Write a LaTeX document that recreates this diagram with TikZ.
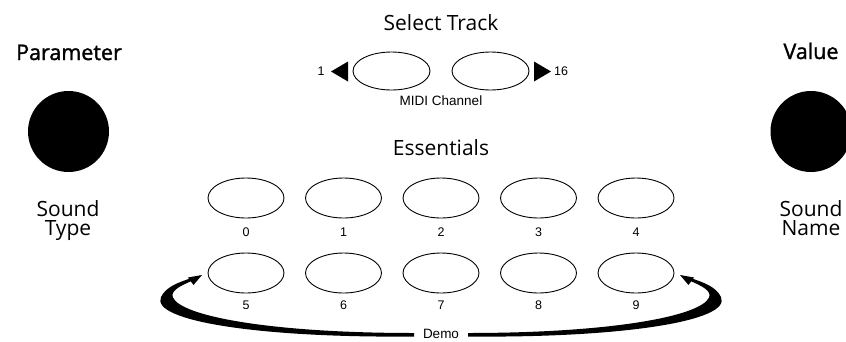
\documentclass[tikz,border=0pt]{standalone}
\usepackage{fontspec}
\usetikzlibrary{shapes.geometric}
\newfontfamily\bigf{Open Sans}
\newfontfamily\headf[FakeBold=1.4]{Open Sans}
\newfontfamily\smallf{Liberation Sans}
\tikzset{
  knob/.style={circle, fill=black, minimum size=81pt, inner sep=0pt},
  btn/.style={ellipse, draw=black, line width=0.9pt, minimum width=76pt, minimum height=40pt, inner sep=0pt},
  trk/.style={ellipse, draw=black, line width=0.9pt, minimum width=77pt, minimum height=38pt, inner sep=0pt},
  head/.style={font=\headf\fontsize{21.5}{21.5}\selectfont, anchor=base, inner sep=0pt},
  big/.style={font=\bigf\fontsize{21}{21}\selectfont, anchor=base, inner sep=0pt},
  small/.style={font=\smallf\fontsize{12.5}{12.5}\selectfont, anchor=base, inner sep=0pt},
  mid/.style={font=\smallf\fontsize{13.5}{13.5}\selectfont, anchor=base, inner sep=0pt},
}
\begin{document}
\begin{tikzpicture}[x=1pt,y=-1pt]
\useasboundingbox (0,0) rectangle (846,341);
% knobs
\node[knob] (param) at (68.5,131.5) {};
\node[knob] (value) at (811,131.5) {};
\node[head] (paramlbl) at (69,60) {Parameter};
\node[head] (valuelbl) at (811,59) {Value};
\node[big] (st1) at (68,216) {Sound};
\node[big] (st2) at (68,235) {Type};
\node[big] (sn1) at (811,216) {Sound};
\node[big] (sn2) at (811,235) {Name};
% select track
\node[big] (seltrk) at (441,30) {Select Track};
\node[trk] (trkL) at (391.5,71) {};
\node[trk] (trkR) at (490.5,71) {};
\fill (331,71.5) -- (348,61.5) -- (348,81.5) -- cycle;
\fill (551,71.5) -- (534,61.5) -- (534,81.5) -- cycle;
\node[small] (one) at (321,75) {1};
\node[small] (sixteen) at (561,75) {16};
\node[mid] (midi) at (441,105) {MIDI Channel};
% essentials
\node[big] (ess) at (441,155) {Essentials};
\foreach \i/\x in {0/246,1/343.5,2/441,3/538.5,4/636}{
  \node[btn] (b\i) at (\x,198) {};
  \node[small] (l\i) at (\x,236.5) {\i};
}
\foreach \i/\x in {5/246,6/343.5,7/441,8/538.5,9/636}{
  \node[btn] (b\i) at (\x,273) {};
  \node[small] (l\i) at (\x,309.5) {\i};
}
\node[mid] (demo) at (441,338) {Demo};
% demo arrows
\coordinate (tipL) at (202,275);
\coordinate (tipR) at (680,275);
\fill (414,336.5) .. controls (260,338) and (150,321) .. (161,297)
  .. controls (166,287) and (177,283) .. (190,278.5)
  -- (191.5,281) .. controls (180,286) and (170,291) .. (173,297.5)
  .. controls (181,316) and (270,333) .. (414,333) -- cycle;
\fill (tipL) -- (188,277.5) -- (193.5,285) -- cycle;
\begin{scope}[xshift=882pt, xscale=-1]
\fill (414,336.5) .. controls (260,338) and (150,321) .. (161,297)
  .. controls (166,287) and (177,283) .. (190,278.5)
  -- (191.5,281) .. controls (180,286) and (170,291) .. (173,297.5)
  .. controls (181,316) and (270,333) .. (414,333) -- cycle;
\fill (202,275) -- (188,277.5) -- (193.5,285) -- cycle;
\end{scope}
\end{tikzpicture}
\end{document}
